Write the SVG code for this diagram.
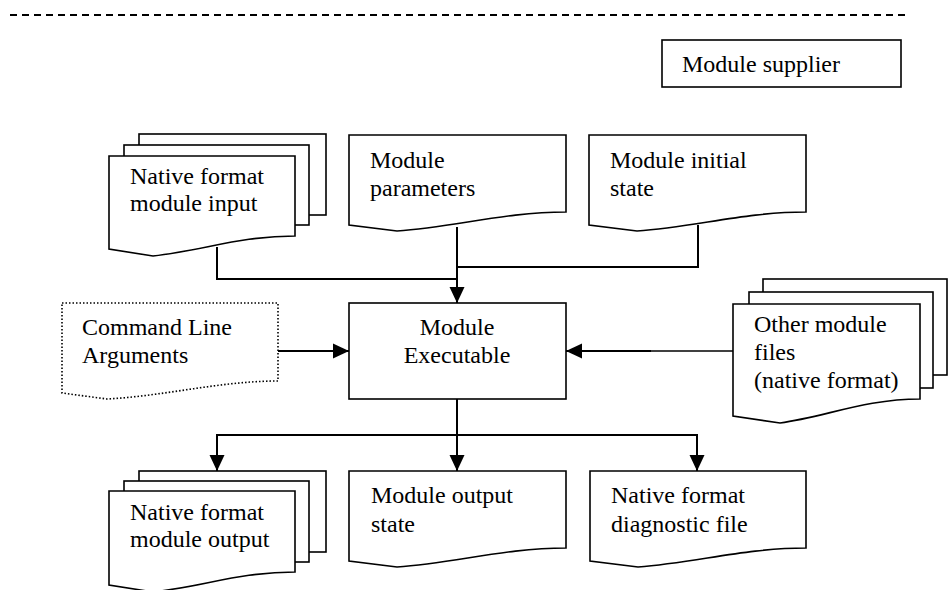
<svg xmlns="http://www.w3.org/2000/svg" width="949" height="590" viewBox="0 0 949 590">
<style>
.s{fill:#fff;stroke:#000;stroke-width:1.6}
.d{fill:#fff;stroke:#000;stroke-width:1.6;stroke-dasharray:1.5,2}
.t{font-family:"Liberation Serif","Times New Roman",serif;font-size:24px;fill:#000}
.c{fill:none;stroke:#000;stroke-width:2}
</style>
<defs>
<marker id="a" viewBox="0 0 16 16" refX="16" refY="8" markerWidth="16" markerHeight="16" markerUnits="userSpaceOnUse" orient="auto">
<path d="M0,0.5 L16,8 L0,15.5 z" fill="#000"/>
</marker>
</defs>
<rect width="949" height="590" fill="#fff"/>
<line x1="10" y1="15" x2="910" y2="15" stroke="#000" stroke-width="2" stroke-dasharray="7,5"/>

<g id="module-supplier">
<rect class="s" x="662" y="40" width="239" height="47"/>
<text class="t" x="682" y="72">Module supplier</text>
</g>

<g id="native-input">
<rect class="s" x="139" y="134" width="187" height="81"/>
<rect class="s" x="124" y="145" width="185" height="80"/>
<path class="s" d="M109,156 H295 V236 C240,236 205,250 153,256 L109,249 Z"/>
<text class="t" x="130" y="184">Native format</text>
<text class="t" x="130" y="211">module input</text>
</g>

<g id="module-parameters">
<path class="s" d="M349,135 H566 V212 C505,212 455,227 397,231 L349,225 Z"/>
<text class="t" x="370" y="168">Module</text>
<text class="t" x="370" y="196">parameters</text>
</g>

<g id="module-initial-state">
<path class="s" d="M589,135 H806 V212 C745,212 695,227 637,231 L589,225 Z"/>
<text class="t" x="610" y="168">Module initial</text>
<text class="t" x="610" y="196">state</text>
</g>

<g id="command-line">
<path class="d" d="M62,303 H278 V381 C220,381 165,396 107,399 L62,393 Z"/>
<text class="t" x="82" y="335">Command Line</text>
<text class="t" x="82" y="363">Arguments</text>
</g>

<g id="module-executable">
<rect class="s" x="349" y="303" width="217" height="96"/>
<text class="t" x="457" y="335" text-anchor="middle">Module</text>
<text class="t" x="457" y="363" text-anchor="middle">Executable</text>
</g>

<g id="other-module-files">
<rect class="s" x="763" y="279" width="184" height="96"/>
<rect class="s" x="749" y="292" width="184" height="96"/>
<path class="s" d="M733,304 H920 V399 C865,399 825,417 780,423 L733,416 Z"/>
<text class="t" x="754" y="332">Other module</text>
<text class="t" x="754" y="360">files</text>
<text class="t" x="754" y="388">(native format)</text>
</g>

<g id="native-output">
<rect class="s" x="139" y="471" width="187" height="81"/>
<rect class="s" x="124" y="481" width="185" height="81"/>
<path class="s" d="M109,491 H295 V572 C240,572 205,586 153,592 L109,585 Z"/>
<text class="t" x="130" y="520">Native format</text>
<text class="t" x="130" y="547">module output</text>
</g>

<g id="module-output-state">
<path class="s" d="M349,471 H566 V548 C505,548 455,563 397,567 L349,561 Z"/>
<text class="t" x="371" y="503">Module output</text>
<text class="t" x="371" y="532">state</text>
</g>

<g id="native-diagnostic">
<path class="s" d="M590,471 H806 V548 C745,548 695,563 638,567 L590,561 Z"/>
<text class="t" x="611" y="503">Native format</text>
<text class="t" x="611" y="532">diagnostic file</text>
</g>

<g id="connectors">
<path class="c" d="M217,247 V279 H457"/>
<path class="c" d="M698,225 V267 H457"/>
<path class="c" d="M457,227 V303" marker-end="url(#a)"/>
<path class="c" d="M278,351 H349" marker-end="url(#a)"/>
<path class="c" d="M733,351 H650" style="stroke-width:1.5"/>
<path class="c" d="M651,351 H566" marker-end="url(#a)"/>
<path class="c" d="M457,399 V471" marker-end="url(#a)"/>
<path class="c" d="M217,471 V435 H697 V471" marker-end="url(#a)"/>
<path class="c" d="M217,436 V471" marker-end="url(#a)"/>
</g>
</svg>
